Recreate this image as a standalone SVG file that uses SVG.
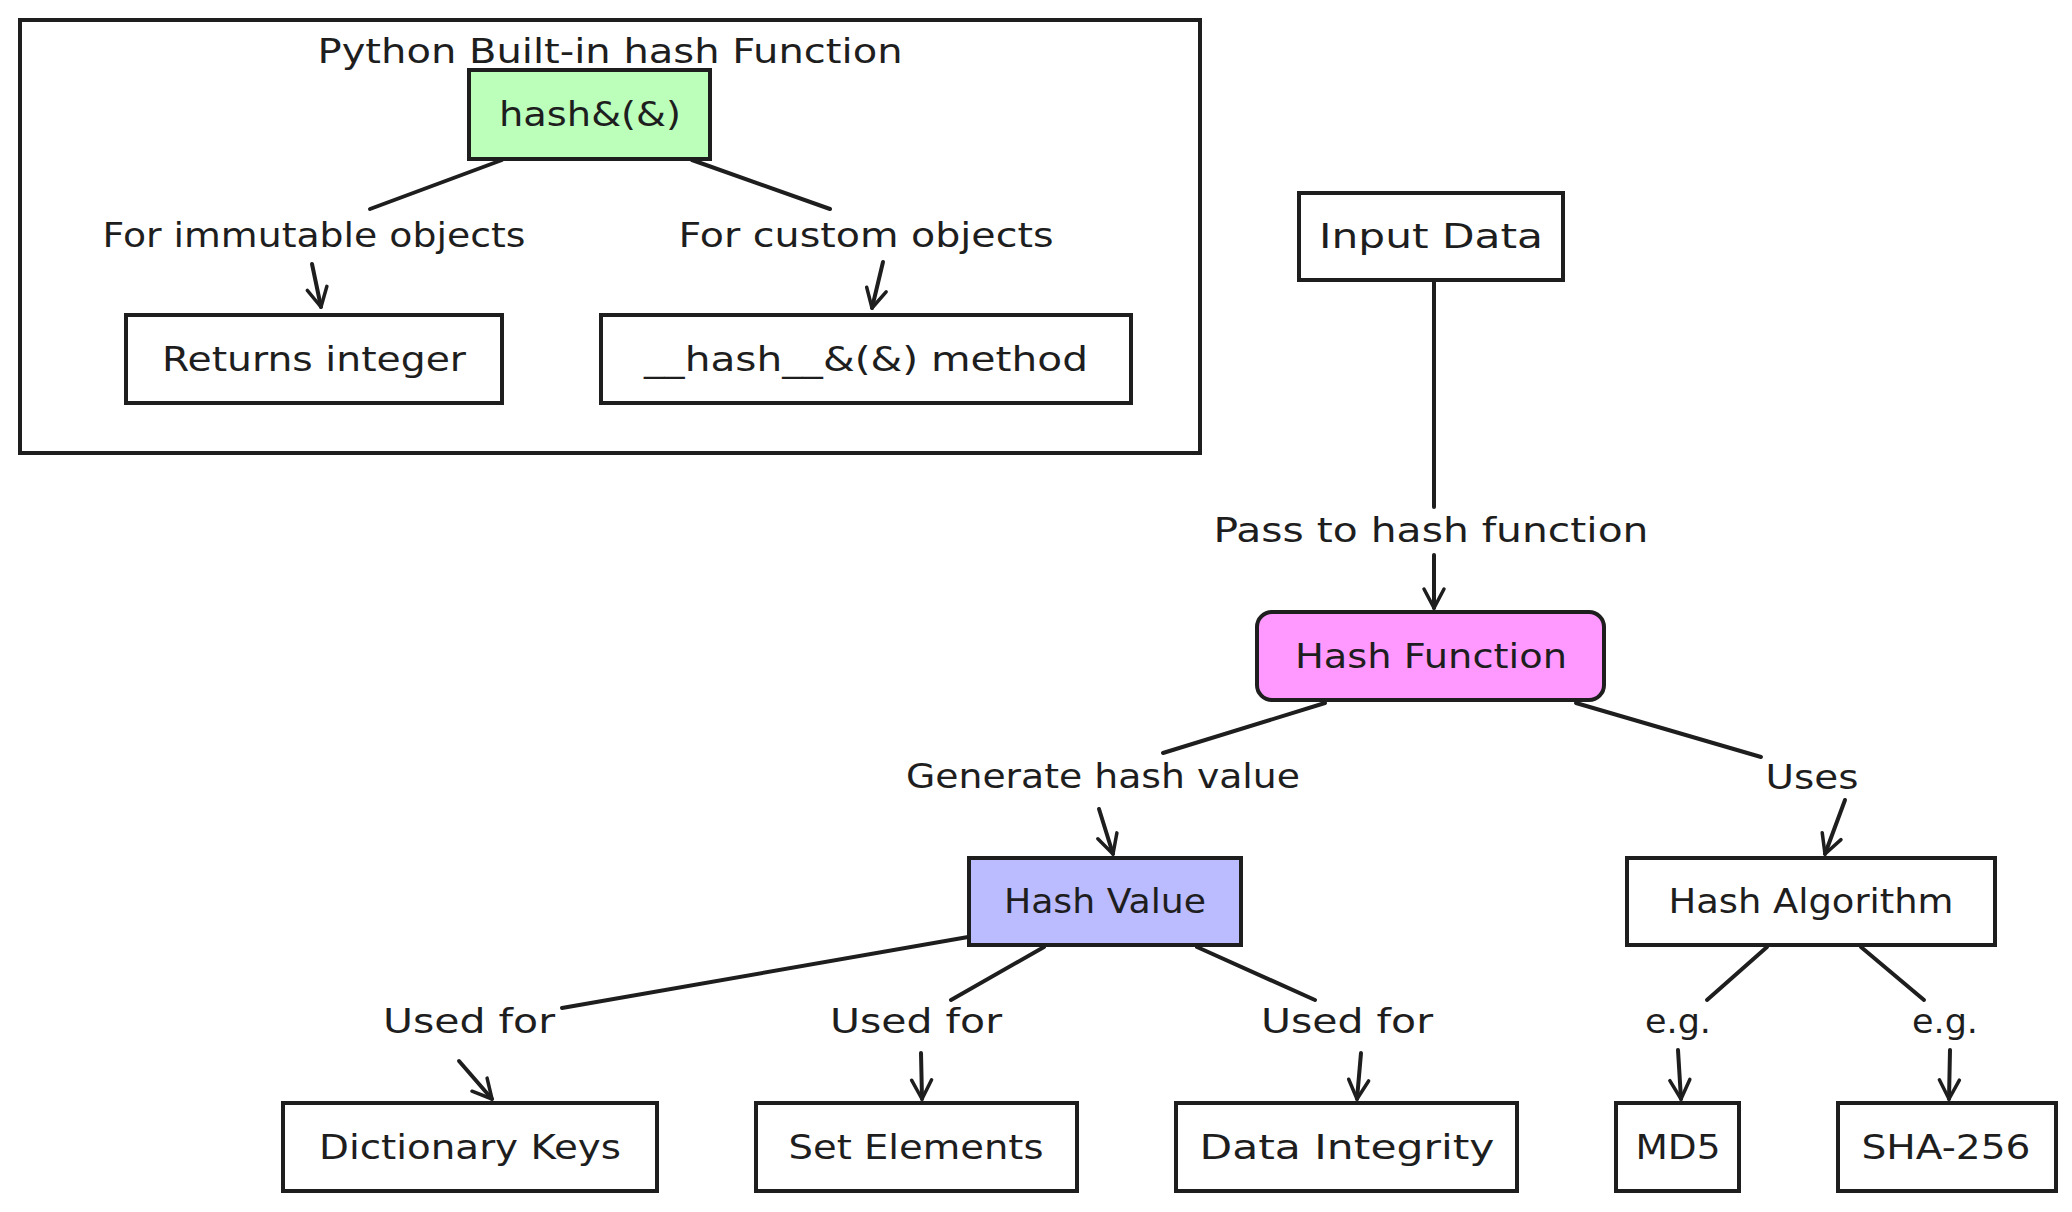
<svg xmlns="http://www.w3.org/2000/svg" width="2072" height="1212" viewBox="0 0 2072 1212">
<defs>
<style>
.n{stroke:#1e1e1e;stroke-width:4;fill:#ffffff}
.green{fill:#bbffbb}
.pink{fill:#ff99ff}
.blue{fill:#bbbbff}
.none{fill:none}
.t{font-family:"DejaVu Sans",sans-serif;font-size:34px;fill:#1e1e1e;text-anchor:middle}
.e{stroke:#1e1e1e;stroke-width:4;fill:none;stroke-linecap:round}
</style>
<marker id="arr" markerWidth="26" markerHeight="26" refX="22" refY="13" orient="auto" markerUnits="userSpaceOnUse">
<path d="M3,3 L22,13 L3,23" fill="none" stroke="#1e1e1e" stroke-width="3.5" stroke-linecap="round" stroke-linejoin="round"/>
</marker>
</defs>
<rect width="2072" height="1212" fill="#ffffff"/>
<g id="cluster-python">
<rect class="n none" x="20" y="20" width="1180" height="433"/>
<text class="t" x="610" y="63" textLength="585" lengthAdjust="spacingAndGlyphs">Python Built-in hash Function</text>
</g>
<g id="connectors">
<line class="e" x1="502" y1="160" x2="370" y2="209"/>
<line class="e" x1="312" y1="264" x2="321" y2="307" marker-end="url(#arr)"/>
<line class="e" x1="692" y1="160" x2="830" y2="209"/>
<line class="e" x1="883" y1="262" x2="872" y2="308" marker-end="url(#arr)"/>
<line class="e" x1="1434" y1="281" x2="1434" y2="507"/>
<line class="e" x1="1434" y1="555" x2="1434" y2="608" marker-end="url(#arr)"/>
<line class="e" x1="1325" y1="703" x2="1163" y2="753"/>
<line class="e" x1="1099" y1="809" x2="1113" y2="854" marker-end="url(#arr)"/>
<line class="e" x1="1576" y1="703" x2="1761" y2="757"/>
<line class="e" x1="1845" y1="800" x2="1825" y2="854" marker-end="url(#arr)"/>
<line class="e" x1="991" y1="933" x2="562" y2="1008"/>
<line class="e" x1="459" y1="1061" x2="492" y2="1099" marker-end="url(#arr)"/>
<line class="e" x1="1044" y1="947" x2="951" y2="1000"/>
<line class="e" x1="921" y1="1053" x2="922" y2="1099" marker-end="url(#arr)"/>
<line class="e" x1="1197" y1="947" x2="1315" y2="1000"/>
<line class="e" x1="1361" y1="1053" x2="1357" y2="1099" marker-end="url(#arr)"/>
<line class="e" x1="1767" y1="947" x2="1707" y2="1000"/>
<line class="e" x1="1678" y1="1050" x2="1681" y2="1099" marker-end="url(#arr)"/>
<line class="e" x1="1861" y1="947" x2="1924" y2="1000"/>
<line class="e" x1="1950" y1="1050" x2="1949" y2="1099" marker-end="url(#arr)"/>
<text class="t" x="314" y="247" textLength="423" lengthAdjust="spacingAndGlyphs">For immutable objects</text>
<text class="t" x="866" y="247" textLength="375" lengthAdjust="spacingAndGlyphs">For custom objects</text>
<text class="t" x="1431" y="542" textLength="435" lengthAdjust="spacingAndGlyphs">Pass to hash function</text>
<text class="t" x="1103" y="788" textLength="394" lengthAdjust="spacingAndGlyphs">Generate hash value</text>
<text class="t" x="1812" y="789" textLength="93" lengthAdjust="spacingAndGlyphs">Uses</text>
<text class="t" x="469" y="1033" textLength="172" lengthAdjust="spacingAndGlyphs">Used for</text>
<text class="t" x="916" y="1033" textLength="172" lengthAdjust="spacingAndGlyphs">Used for</text>
<text class="t" x="1347" y="1033" textLength="172" lengthAdjust="spacingAndGlyphs">Used for</text>
<text class="t" x="1678" y="1033" textLength="66" lengthAdjust="spacingAndGlyphs">e.g.</text>
<text class="t" x="1945" y="1033" textLength="66" lengthAdjust="spacingAndGlyphs">e.g.</text>
</g>
<g id="hash-builtin">
<rect class="n green" x="469" y="70" width="241" height="89"/>
<text class="t" x="590" y="126" textLength="182" lengthAdjust="spacingAndGlyphs">hash&amp;(&amp;)</text>
</g>
<g id="returns-integer">
<rect class="n" x="126" y="315" width="376" height="88"/>
<text class="t" x="314" y="371" textLength="304" lengthAdjust="spacingAndGlyphs">Returns integer</text>
</g>
<g id="dunder-hash">
<rect class="n" x="601" y="315" width="530" height="88"/>
<text class="t" x="866" y="371" textLength="444" lengthAdjust="spacingAndGlyphs">__hash__&amp;(&amp;) method</text>
</g>
<g id="input-data">
<rect class="n" x="1299" y="193" width="264" height="87"/>
<text class="t" x="1431" y="248" textLength="224" lengthAdjust="spacingAndGlyphs">Input Data</text>
</g>
<g id="hash-function">
<rect class="n pink" x="1257" y="612" width="347" height="88" rx="15"/>
<text class="t" x="1431" y="668" textLength="272" lengthAdjust="spacingAndGlyphs">Hash Function</text>
</g>
<g id="hash-value">
<rect class="n blue" x="969" y="858" width="272" height="87"/>
<text class="t" x="1105" y="913" textLength="202" lengthAdjust="spacingAndGlyphs">Hash Value</text>
</g>
<g id="hash-algorithm">
<rect class="n" x="1627" y="858" width="368" height="87"/>
<text class="t" x="1811" y="913" textLength="285" lengthAdjust="spacingAndGlyphs">Hash Algorithm</text>
</g>
<g id="dictionary-keys">
<rect class="n" x="283" y="1103" width="374" height="88"/>
<text class="t" x="470" y="1159" textLength="302" lengthAdjust="spacingAndGlyphs">Dictionary Keys</text>
</g>
<g id="set-elements">
<rect class="n" x="756" y="1103" width="321" height="88"/>
<text class="t" x="916" y="1159" textLength="255" lengthAdjust="spacingAndGlyphs">Set Elements</text>
</g>
<g id="data-integrity">
<rect class="n" x="1176" y="1103" width="341" height="88"/>
<text class="t" x="1347" y="1159" textLength="295" lengthAdjust="spacingAndGlyphs">Data Integrity</text>
</g>
<g id="md5">
<rect class="n" x="1616" y="1103" width="123" height="88"/>
<text class="t" x="1678" y="1159" textLength="85" lengthAdjust="spacingAndGlyphs">MD5</text>
</g>
<g id="sha-256">
<rect class="n" x="1838" y="1103" width="218" height="88"/>
<text class="t" x="1946" y="1159" textLength="169" lengthAdjust="spacingAndGlyphs">SHA-256</text>
</g>
</svg>
